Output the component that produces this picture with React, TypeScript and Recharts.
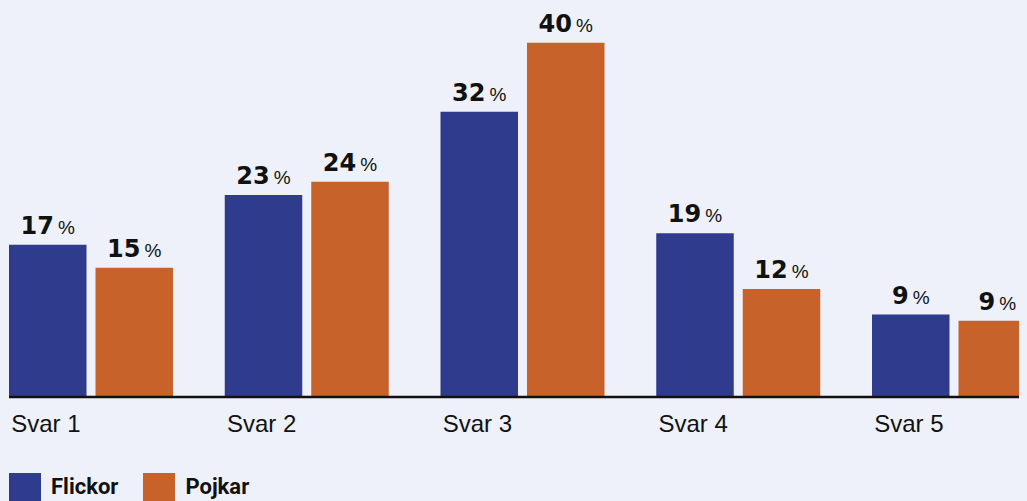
import { BarChart, Bar, XAxis, YAxis, LabelList } from "recharts"

const categories = ["Svar 1", "Svar 2", "Svar 3", "Svar 4", "Svar 5"]
const flickor = [17.2, 22.8, 32.2, 18.5, 9.3]
const pojkar = [14.6, 24.3, 40.0, 12.2, 8.6]
const flickorLabels = [17, 23, 32, 19, 9]
const pojkarLabels = [15, 24, 40, 12, 9]

const BLUE = "#2f3b8c"
const ORANGE = "#c8622b"
const INK = "#111111"

const data = categories.map((name, i) => ({
  name,
  flickor: flickor[i],
  pojkar: pojkar[i],
  flickorLabel: flickorLabels[i],
  pojkarLabel: pojkarLabels[i],
}))

function PctLabel(props: any) {
  const { x, y, width, value } = props
  return (
    <text x={x + width / 2} y={y - 11} textAnchor="middle" fill={INK}>
      <tspan fontFamily="DejaVu Sans" fontWeight={700} fontSize={24}>{value}</tspan>
      <tspan fontFamily="Liberation Sans" fontSize={19} dx={4}>%</tspan>
    </text>
  )
}

function SvarTick(props: any) {
  const { x, y, payload } = props
  return (
    <text x={x - 45} y={y} dy={27} textAnchor="middle" fill={INK} fontFamily="Liberation Sans" fontSize={24}>
      {payload.value}
    </text>
  )
}

export default function App() {
  return (
    <div style={{ marginLeft: 1, width: 1018, height: 493, overflow: "hidden" }}>
      <style>{`body{background:#eef1f9}`}</style>
      <div style={{ marginLeft: -25.9 }}>
        <BarChart
          width={1078.75}
          height={440}
          data={data}
          margin={{ top: 12, right: 0, bottom: 21, left: 0 }}
          barGap={9}
        >
          <XAxis
            dataKey="name"
            tickLine={false}
            axisLine={{ stroke: INK, strokeWidth: 2.5 }}
            tick={<SvarTick />}
            interval={0}
          />
          <YAxis hide domain={[0, 42.56]} />
          <Bar dataKey="flickor" fill={BLUE} barSize={77.5} isAnimationActive={false}>
            <LabelList dataKey="flickorLabel" content={<PctLabel />} />
          </Bar>
          <Bar dataKey="pojkar" fill={ORANGE} barSize={77.5} isAnimationActive={false}>
            <LabelList dataKey="pojkarLabel" content={<PctLabel />} />
          </Bar>
        </BarChart>
      </div>
      <div style={{ display: "flex", alignItems: "flex-start", marginTop: 25, fontFamily: "Roboto", fontWeight: 700, fontSize: 22, color: INK }}>
        <div style={{ width: 32, height: 32, background: BLUE }} />
        <div style={{ marginLeft: 10, marginTop: 1 }}>Flickor</div>
        <div style={{ width: 32, height: 32, background: ORANGE, marginLeft: 25 }} />
        <div style={{ marginLeft: 10, marginTop: 1 }}>Pojkar</div>
      </div>
    </div>
  )
}
